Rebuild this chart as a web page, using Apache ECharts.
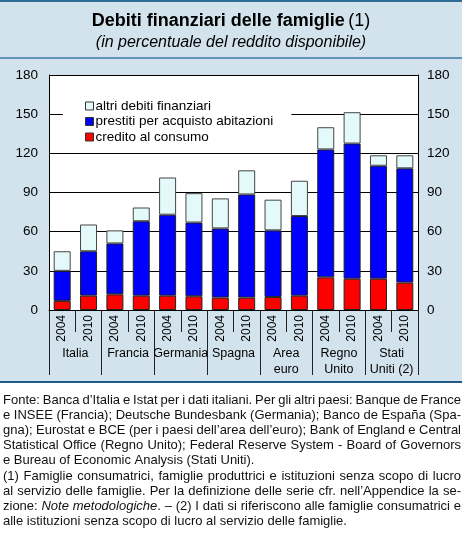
<!DOCTYPE html>
<html><head><meta charset="utf-8">
<script src="https://cdn.jsdelivr.net/npm/echarts@6/dist/echarts.min.js"></script>
<style>html,body{margin:0;padding:0;background:#fff}#c{width:467px;height:542px}</style>
</head><body><div id="c"></div>
<script>
var years = ['2004','2010','2004','2010','2004','2010','2004','2010','2004','2010','2004','2010','2004','2010'];
var countries = ['Italia','Francia','Germania','Spagna','Area\neuro','Regno\nUnito','Stati\nUniti (2)'];
var credito = [7, 11, 12, 11, 11, 10.5, 9.5, 9.5, 10, 11, 25, 24, 24, 21];
var prestiti = [23, 34, 39, 57, 62, 56.5, 53, 79, 51, 61, 98, 103.5, 86.5, 87.5];
var altri = [15, 20.5, 10, 10.5, 28.5, 22.5, 23, 18.5, 23.5, 27, 17, 24, 8, 10];
var yTicks = [0, 30, 60, 90, 120, 150, 180];
var seriesNames = ['credito al consumo', 'prestiti per acquisto abitazioni', 'altri debiti finanziari'];
var noteLines = [
  [[{t:'Fonte: Banca d’Italia e Istat per i dati italiani. Per gli altri paesi: Banque de France'}], true],
  [[{t:'e INSEE (Francia); Deutsche Bundesbank (Germania); Banco de España (Spa-'}], true],
  [[{t:'gna); Eurostat e BCE (per i paesi dell’area dell’euro); Bank of England e Central'}], true],
  [[{t:'Statistical Office (Regno Unito); Federal Reserve System - Board of Governors'}], true],
  [[{t:'e Bureau of Economic Analysis (Stati Uniti).'}], false],
  [[{t:'(1) Famiglie consumatrici, famiglie produttrici e istituzioni senza scopo di lucro'}], true],
  [[{t:'al servizio delle famiglie. Per la definizione delle serie cfr. nell’Appendice la se-'}], true],
  [[{t:'zione: '},{t:'Note metodologiche', i:true},{t:'. – (2) I dati si riferiscono alle famiglie consumatrici e'}], true],
  [[{t:'alle istituzioni senza scopo di lucro al servizio delle famiglie.'}], false]
];

var FONT = '"Liberation Sans", Arial, sans-serif';
var chart = echarts.init(document.getElementById('c'), null, {renderer:'canvas'});

var cv = document.createElement('canvas').getContext('2d');
function measure(w, italic, fs){ cv.font = (italic?'italic ':'') + fs + 'px ' + FONT; return cv.measureText(w).width; }
var noteEls = [];
var x0 = 3, x1 = 461, yStart = 400, lh = 15.2;
noteLines.forEach(function(line, li){
  var segs = line[0], justify = line[1];
  // build words made of pieces
  var wl = [], cur = null;
  segs.forEach(function(s){
    var parts = s.t.split(' ');
    parts.forEach(function(p, k){
      if (k > 0) cur = null;
      if (!p.length) return;
      if (!cur) { cur = {pieces:[]}; wl.push(cur); }
      cur.pieces.push({t:p, i:!!s.i});
    });
  });
  var fs = 13;
  var widths, total, gap;
  for (;;) {
    widths = wl.map(function(w){ var s=0; w.pieces.forEach(function(p){ s+=measure(p.t,p.i,fs); }); return s; });
    total = widths.reduce(function(a,b){return a+b;},0);
    var space = measure(' ', false, fs);
    gap = justify && wl.length>1 ? (x1 - x0 - total)/(wl.length-1) : space;
    if (!justify || gap >= 2.2 || fs <= 11) break;
    fs -= 0.25;
  }
  var x = x0, y = yStart + li*lh;
  wl.forEach(function(w, k){
    var px = x;
    w.pieces.forEach(function(p){
      noteEls.push({type:'text', x:px, y:y, style:{text:p.t, font:(p.i?'italic ':'')+fs+'px '+FONT, fill:'#111', textVerticalAlign:'middle', textAlign:'left'}});
      px += measure(p.t,p.i,fs);
    });
    x += widths[k] + gap;
  });
});

var graphics = [
  {type:'rect', z:-100, shape:{x:0,y:0,width:462,height:382}, style:{fill:'#d3e3ed'}},
  {type:'line', z:-99, shape:{x1:0,y1:1,x2:462,y2:1}, style:{stroke:'#2e6d95', lineWidth:2}},
  {type:'line', z:-99, shape:{x1:0,y1:58,x2:462,y2:58}, style:{stroke:'#3b7aa3', lineWidth:1.5}},
  {type:'line', z:-99, shape:{x1:0,y1:382,x2:462,y2:382}, style:{stroke:'#1f5b86', lineWidth:2}},
  {type:'text', x:231, y:21, style:{rich:{b:{font:'bold 18px '+FONT, fill:'#000'}, n:{font:'18px '+FONT, fill:'#000'}}, text:'{b|Debiti finanziari delle famiglie} {n|(1)}', textAlign:'center', textVerticalAlign:'middle'}},
  {type:'text', x:231, y:43, style:{text:'(in percentuale del reddito disponibile)', font:'italic 16px '+FONT, fill:'#000', textAlign:'center', textVerticalAlign:'middle'}}
].concat(noteEls);

var barBase = {type:'bar', stack:'tot', barWidth:17, xAxisIndex:0, yAxisIndex:0};
var option = {
  animation:false,
  textStyle:{fontFamily:FONT},
  graphic:{elements:graphics},
  grid:{left:49, right:49, top:75, bottom:232, show:true, backgroundColor:'#fff', borderWidth:0},
  legend:{
    data:[seriesNames[2], seriesNames[1], seriesNames[0]],
    orient:'vertical', left:63, top:91, icon:'rect',
    backgroundColor:'#fff', padding:[8,18,7,22],
    itemWidth:8, itemHeight:8, itemGap:1.5,
    itemStyle:{borderColor:'#333', borderWidth:1},
    textStyle:{fontSize:13.5, color:'#000', fontFamily:FONT, lineHeight:14, padding:[0,0,0,-3]}
  },
  xAxis:[
    {type:'category', data:years, position:'bottom',
     axisLine:{show:true, lineStyle:{color:'#000', width:1}},
     axisTick:{show:true, interval:0, length:22, lineStyle:{color:'#222'}},
     axisLabel:{interval:0, rotate:90, margin:5, fontSize:12, color:'#000', fontFamily:FONT}},
    {type:'category', data:countries, position:'bottom',
     axisLine:{show:false},
     axisTick:{show:true, interval:0, length:65, lineStyle:{color:'#222'}},
     axisLabel:{interval:0, margin:36, fontSize:12.5, lineHeight:15.5, color:'#000', fontFamily:FONT}}
  ],
  yAxis:[
    {type:'value', min:0, max:180, interval:30, position:'left',
     axisLine:{show:true, lineStyle:{color:'#000'}}, axisTick:{show:false},
     splitLine:{show:true, lineStyle:{color:'#000', width:1}},
     axisLabel:{margin:11, fontSize:13.5, color:'#000', fontFamily:FONT}},
    {type:'value', min:0, max:180, interval:30, position:'right',
     axisLine:{show:true, lineStyle:{color:'#000'}}, axisTick:{show:false},
     splitLine:{show:false},
     axisLabel:{margin:9, fontSize:13.5, color:'#000', fontFamily:FONT}}
  ],
  series:[
    Object.assign({}, barBase, {name:seriesNames[0], data:credito, itemStyle:{color:'#ff0000', borderColor:'#222', borderWidth:1}}),
    Object.assign({}, barBase, {name:seriesNames[1], data:prestiti, itemStyle:{color:'#0000ff', borderColor:'#222', borderWidth:1}}),
    Object.assign({}, barBase, {name:seriesNames[2], data:altri, itemStyle:{color:'#e4fafa', borderColor:'#444', borderWidth:1}})
  ]
};
chart.setOption(option);
</script></body></html>
